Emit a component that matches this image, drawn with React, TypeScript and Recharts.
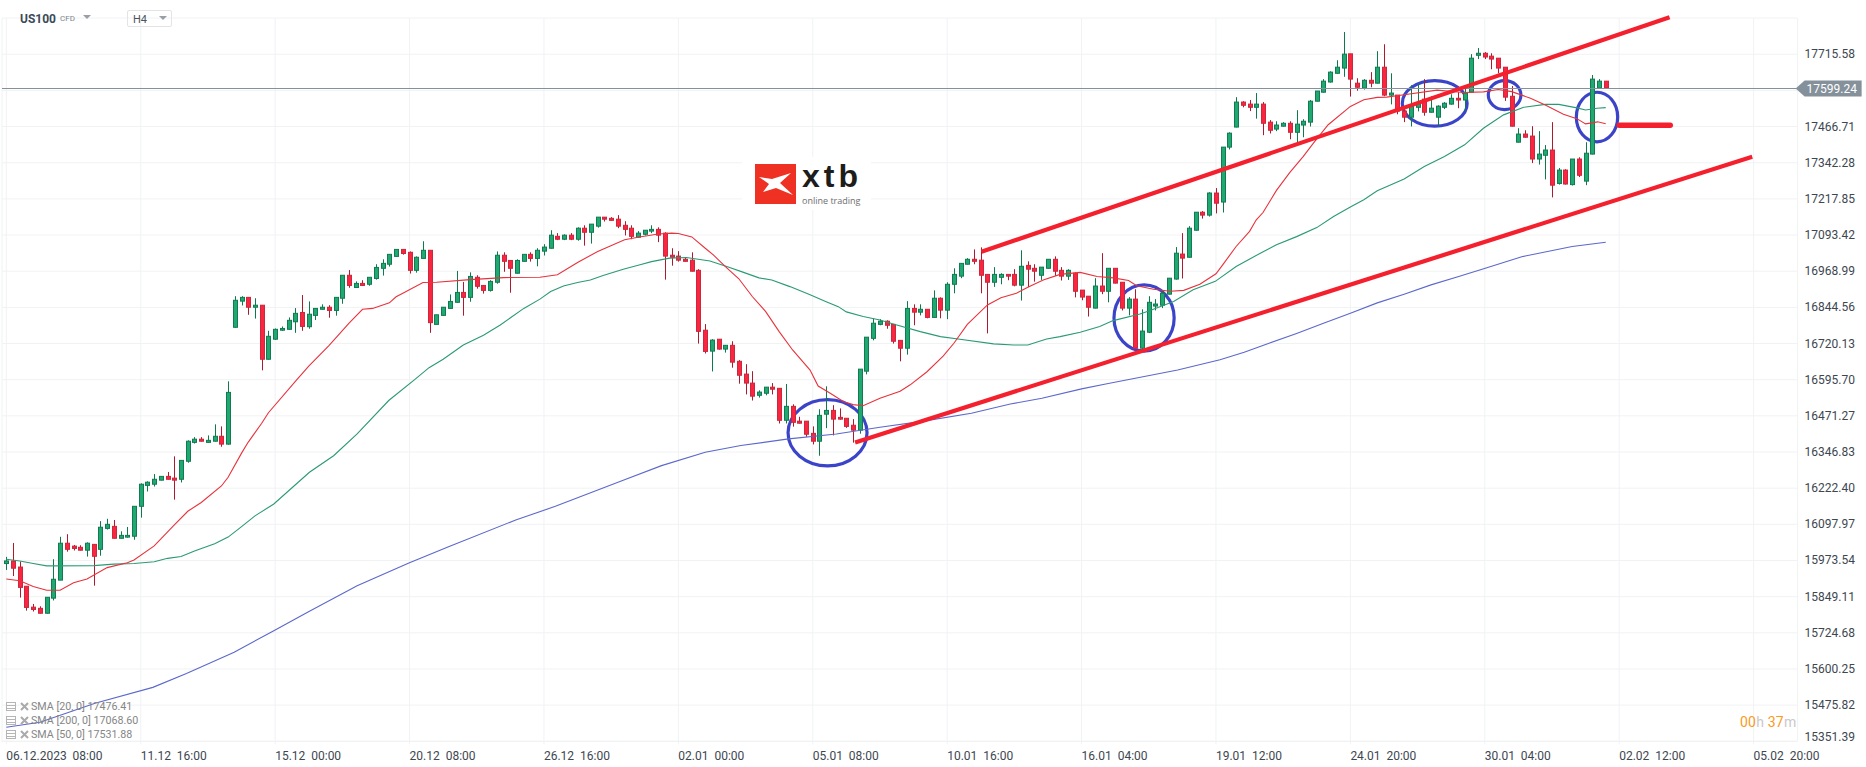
import React from "react";
import { ComposedChart, Bar, Line, XAxis, YAxis, CartesianGrid, ReferenceLine, ReferenceArea } from "recharts";

const opens = [
15963,15972,15951,15885,15813,15809,15792,15844,15906,16033,16023,16019,16009,16029,16012,16084,16091,16050,16054,16057,
16160,16232,16236,16250,16263,16257,16253,16315,16380,16391,16380,16384,16401,16374,16776,16866,16879,16845,16852,16666,
16735,16766,16769,16795,16827,16778,16817,16838,16845,16834,16876,16955,16913,16927,16924,16944,16979,16993,17020,17044,
17034,16972,17013,17041,16786,16817,16841,16862,16896,16879,16948,16920,16903,16931,17024,17006,16962,17003,17027,17013,
17038,17048,17089,17079,17093,17079,17117,17103,17124,17155,17151,17148,17127,17117,17086,17096,17107,17113,17100,17024,
17021,17010,17007,16972,16766,16694,16735,16701,16714,16659,16615,16584,16542,16549,16570,16566,16456,16504,16453,16453,
16411,16384,16477,16490,16466,16463,16439,16422,16625,16738,16786,16797,16786,16731,16704,16841,16828,16838,16810,16876,
16835,16924,16952,16993,17010,17007,16958,16931,16948,16958,16958,16921,16989,16979,16955,16979,17010,16972,16952,16962,
16904,16883,16842,16918,16900,16979,16931,16842,16873,16704,16759,16849,16852,16890,16942,17028,17017,17110,17172,17162,
17238,17207,17396,17465,17551,17544,17533,17544,17482,17458,17468,17478,17447,17472,17482,17554,17585,17620,17650,17668,
17717,17616,17599,17626,17616,17671,17575,17575,17520,17499,17533,17561,17516,17499,17533,17544,17564,17558,17585,17712,
17719,17709,17702,17671,17571,17413,17441,17434,17355,17368,17386,17271,17317,17267,17355,17279,17372,17599,17623];

const highs = [
15986,16034,15970,15885,15824,15816,15847,15978,16055,16064,16027,16026,16036,16029,16109,16117,16113,16074,16089,16160,
16239,16246,16271,16263,16278,16332,16318,16387,16398,16398,16404,16442,16435,16590,16883,16883,16879,16876,16852,16764,
16772,16779,16810,16842,16887,16865,16841,16855,16852,16879,16955,16973,16934,16938,16948,16993,17010,17027,17044,17044,
17037,17020,17072,17041,16819,16845,16889,16970,16932,16965,16955,16920,16938,17037,17034,17006,17010,17027,17034,17048,
17062,17110,17100,17096,17100,17120,17127,17131,17155,17155,17155,17162,17141,17127,17107,17110,17127,17120,17103,17048,
17038,17017,17034,16976,16787,16735,16735,16714,16728,16663,16649,16625,16559,16570,16584,16566,16581,16511,16468,16453,
16435,16494,16573,16508,16497,16463,16460,16632,16742,16807,16804,16800,16786,16731,16866,16855,16855,16838,16903,16879,
16931,16979,16996,17014,17044,17051,16958,16983,16962,16958,16976,17041,17003,16993,16983,17010,17020,16983,16976,16965,
16904,16883,16945,17031,16979,16979,16931,16880,16907,16838,16883,16873,16900,16945,17052,17100,17124,17172,17176,17241,
17255,17396,17447,17568,17554,17558,17582,17551,17489,17485,17482,17485,17523,17492,17558,17589,17630,17657,17695,17792,
17717,17633,17630,17654,17726,17750,17650,17575,17533,17609,17616,17630,17571,17540,17551,17578,17585,17599,17716,17737,
17723,17719,17702,17671,17606,17461,17454,17468,17451,17403,17482,17324,17320,17355,17361,17413,17644,17630,17623];

const lows = [
15941,15920,15846,15801,15798,15791,15791,15836,15906,16004,16008,16008,15987,15887,15990,16080,16049,16049,16052,16045,
16121,16211,16228,16249,16252,16183,16242,16310,16376,16383,16379,16383,16365,16372,16775,16851,16819,16806,16628,16665,
16733,16764,16768,16757,16764,16771,16801,16837,16809,16816,16857,16912,16912,16919,16919,16940,16954,16985,17019,17026,
16961,16964,17012,16757,16785,16816,16840,16861,16816,16864,16909,16892,16899,16926,16967,16895,16961,17002,17002,16986,
17023,17047,17076,17076,17076,17074,17057,17064,17119,17140,17143,17117,17092,17079,17085,17092,17100,17069,16940,16988,
17002,17002,16968,16720,16686,16624,16699,16689,16637,16582,16545,16524,16534,16542,16545,16445,16445,16434,16445,16399,
16373,16334,16429,16404,16458,16430,16379,16410,16614,16731,16783,16771,16720,16659,16682,16783,16817,16807,16809,16807,
16804,16893,16945,16992,16993,16893,16755,16915,16924,16938,16917,16868,16914,16933,16939,16978,16953,16937,16939,16879,
16869,16813,16841,16890,16862,16927,16834,16817,16703,16701,16756,16834,16842,16889,16940,16944,17016,17109,17150,17157,
17168,17171,17388,17464,17533,17520,17494,17437,17443,17451,17467,17423,17410,17430,17467,17553,17584,17618,17649,17638,
17570,17590,17594,17602,17615,17571,17543,17509,17482,17467,17519,17504,17515,17467,17527,17542,17530,17520,17584,17699,
17699,17664,17650,17555,17467,17412,17429,17341,17336,17285,17223,17267,17267,17264,17293,17265,17371,17598,17599];

const closes = [
15972,15947,15881,15812,15805,15792,15847,15909,16033,16012,16015,16009,16033,15988,16088,16098,16050,16060,16060,16160,
16236,16243,16253,16263,16253,16250,16318,16384,16391,16384,16387,16401,16374,16552,16869,16879,16845,16852,16666,16745,
16769,16772,16800,16824,16779,16821,16841,16845,16834,16879,16955,16920,16927,16920,16948,16982,16996,17027,17044,17030,
16972,17017,17041,16792,16819,16845,16865,16896,16879,16951,16917,16903,16934,17024,17003,16979,17006,17027,17013,17041,
17052,17093,17079,17093,17079,17117,17103,17131,17155,17148,17144,17124,17113,17089,17100,17110,17113,17093,17021,17017,
17007,17003,16969,16762,16693,16732,16701,16714,16656,16611,16584,16539,16553,16570,16563,16456,16504,16449,16446,16408,
16384,16473,16490,16460,16460,16435,16422,16632,16742,16790,16797,16783,16728,16704,16841,16828,16838,16810,16876,16835,
16924,16958,16996,17010,17003,16955,16931,16958,16958,16952,16921,16986,16976,16969,16983,17010,16969,16952,16972,16900,
16880,16845,16918,16900,16979,16928,16842,16873,16704,16763,16862,16856,16893,16945,17031,17014,17117,17172,17162,17238,
17203,17396,17444,17551,17540,17533,17544,17478,17454,17472,17478,17447,17475,17485,17554,17589,17623,17654,17671,17716,
17630,17602,17626,17616,17671,17575,17582,17520,17499,17537,17547,17516,17530,17537,17547,17564,17558,17582,17702,17719,
17706,17699,17668,17568,17468,17441,17430,17355,17372,17386,17265,17317,17269,17355,17299,17375,17630,17623,17599.24];

const sma20Index = [0,2,4,6,8,10,12,15,18,19,22,25,27,29,32,33,35,36,38,39,43.2,45,48,51,53,54.5,57,58,59,62,64,69,74,79.4,82,85,88,92,94,97,99,100,102,104,105.2,107,109,111,113,115,117,119.6,120.8,122.6,124.6,126,127.5,130,133,134.5,137,139.4,141,143,146,148,150.3,152,154.3,156.8,159.8,162.3,164.7,167,168.2,170.7,173.2,175.2,177.6,180,181,183,185,186,187,189,191,193,194.5,196.7,200,202,204,205.4,208,212.9,216.8,219.8,222,224,226.8,229,231.7,233.7,235,236.8,238];
const sma20Values = [15910,15904,15884,15871,15871,15897,15910,15949,15966,15975,16024,16096,16143,16173,16230,16260,16343,16381,16446,16482,16595,16642,16713,16790,16838,16841,16860,16881,16893,16930,16931,16940,16947,16948,16957,16999,17037,17077,17086,17097,17100,17099,17087,17048,17025,16985,16943,16882,16830,16761,16698,16629,16574,16549,16520,16510,16506,16532,16556,16578,16623,16677,16721,16786,16853,16878,16893,16914,16939,16958,16965,16951,16946,16937,16919,16907,16900,16903,16924,16960,16991,17054,17106,17146,17171,17247,17309,17364,17410,17473,17536,17559,17567,17568,17576,17592,17584,17586,17594,17587,17564,17541,17509,17494,17476,17483,17476.41];

const sma50Index = [0,2,4,6,13,16,19,22,24,26,28,31,33,35,37,39.8,45.1,48.7,52.2,56.9,60.8,62.9,65,68,71,73.5,77,79.4,81,82.9,85,86.9,88.8,91.8,94.3,96,98.7,101.2,104.7,107.2,109.7,112,113.9,116.6,119.6,122,123.8,125,127.5,130,132.5,136,139,141.9,146.9,149.9,152,154.8,156.8,159.8,162.7,164.7,168.7,170.2,173.7,176.6,179.9,183,186.6,189,192,195,197.5,200,202,204,208,211,214,217,219.8,222.8,225.8,229,231,233.7,235,236.7,238];
const sma50Values = [15978,15972,15963,15955,15956,15961,15963,15969,15981,15987,16006,16031,16054,16090,16127,16168,16277,16334,16409,16524,16597,16637,16666,16715,16749,16784,16841,16873,16899,16918,16930,16939,16954,16976,16991,17002,17014,17016,17004,16985,16965,16946,16939,16916,16888,16864,16847,16829,16813,16801,16784,16761,16744,16735,16719,16715,16715,16736,16744,16759,16779,16799,16822,16834,16865,16905,16934,16985,17031,17060,17088,17119,17157,17190,17215,17246,17286,17329,17364,17404,17461,17507,17533,17543,17543,17531,17524,17530,17531.88];

const sma200Index = [0,5,13.2,21.8,26.8,33.9,39.8,45.1,52.2,59.9,65.8,75.8,81.7,91.6,97.5,104,109.3,116.4,123.5,130,136.5,143.6,149.4,154.1,160,163.6,174.3,180.6,184.2,188,192,196,200,204,208,212,216,219.6,225.5,233,238];
const sma200Values = [15400,15417,15482,15537,15585,15658,15732,15799,15887,15965,16021,16113,16160,16248,16300,16346,16369,16392,16409,16432,16453,16480,16512,16532,16564,16581,16629,16664,16690,16722,16755,16790,16824,16860,16890,16922,16950,16976,17019,17054,17068.6];

const priceTicks = [17715.58,17591.15,17466.71,17342.28,17217.85,17093.42,16968.99,16844.56,16720.13,16595.7,16471.27,16346.83,16222.4,16097.97,15973.54,15849.11,15724.68,15600.25,15475.82,15351.39];
const hiddenPriceTick = 17591.15;
const lastPrice = 17599.24;

const timeTickIndex = [0,20,40,60,80,100,120,140,160,180,200,220,240,260];
const timeTickLabels = ["06.12.2023  08:00","11.12  16:00","15.12  00:00","20.12  08:00","26.12  16:00","02.01  00:00","05.01  08:00","10.01  16:00","16.01  04:00","19.01  12:00","24.01  20:00","30.01  04:00","02.02  12:00","05.02  20:00"];

const upperChannel = [{ x: 145.1, y: 17036 }, { x: 247.5, y: 17843 }];
const lowerChannel = [{ x: 126.3, y: 16380 }, { x: 259.8, y: 17363 }];
const targetLine = [{ x: 240, y: 17471 }, { x: 247.6, y: 17471 }];

const ellipses = [
  { x1: 116.1, x2: 128.3, y1: 16294, y2: 16532 },
  { x1: 164.6, x2: 174, y1: 16689, y2: 16927 },
  { x1: 207.5, x2: 217.6, y1: 17463, y2: 17630 },
  { x1: 220.3, x2: 225.6, y1: 17520, y2: 17630 },
  { x1: 233.4, x2: 240, y1: 17409, y2: 17590 },
];

const legendRows = ["SMA\u00A0[20,\u00A00]\u00A017476.41", "SMA\u00A0[200,\u00A00]\u00A017068.60", "SMA\u00A0[50,\u00A00]\u00A017531.88"];

const candles = opens.map((open, i) => ({ i, open, high: highs[i], low: lows[i], close: closes[i] }));
const sma20 = sma20Index.map((i, k) => ({ i, v: sma20Values[k] }));
const sma50 = sma50Index.map((i, k) => ({ i, v: sma50Values[k] }));
const sma200 = sma200Index.map((i, k) => ({ i, v: sma200Values[k] }));

const FONT = "Roboto, sans-serif";
const RED_LINE = "#f4202e";
const BLUE_RING = "#3b44c9";

function Candle(props: any) {
  const { x, y, width, height, payload } = props;
  if (x == null || y == null) return null;
  const c = Math.round(x + width / 2) + 0.5;
  const span = payload.high - payload.low || 1;
  const at = (v: number) => y + ((payload.high - v) / span) * height;
  const up = payload.close >= payload.open;
  const top = at(Math.max(payload.open, payload.close));
  const bottom = at(Math.min(payload.open, payload.close));
  return (
    <g>
      <line x1={c} x2={c} y1={y} y2={y + height} stroke={up ? "#0d7a4e" : "#ad1a2e"} strokeWidth={1} />
      <rect x={c - 2} y={top} width={4} height={Math.max(bottom - top, 1)} fill={up ? "#1fa86f" : "#fb2540"} stroke={up ? "#127a52" : "#c9283d"} strokeWidth={1} />
    </g>
  );
}

function XTick(props: any) {
  const { x, y, payload } = props;
  const k = timeTickIndex.indexOf(payload.value);
  return (
    <text x={x} y={y + 14} textAnchor="start" fontSize={12} fontFamily={FONT} fill="#3d4751">
      {(timeTickLabels[k] || "").replace(/ /g, "\u00A0")}
    </text>
  );
}

function YTick(props: any) {
  const { x, y, payload } = props;
  if (payload.value === hiddenPriceTick) return null;
  const isBottom = payload.value === priceTicks[priceTicks.length - 1];
  return (
    <text x={x - 1} y={y + 4 - (isBottom ? 4 : 0)} textAnchor="start" fontSize={12} fontFamily={FONT} fill="#3d4751">
      {payload.value.toFixed(2)}
    </text>
  );
}

function PriceLine(props: any) {
  const { x1, x2, y1 } = props;
  const left = Math.min(x1, x2);
  const right = Math.max(x1, x2);
  const y = Math.round(y1) + 0.5;
  return (
    <g>
      <line x1={left} x2={right} y1={y} y2={y} stroke="#84909a" strokeWidth={1} />
      <polygon points={`${right - 2},${y} ${right + 7},${y - 8} ${right + 64},${y - 8} ${right + 64},${y + 8} ${right + 7},${y + 8}`} fill="#84909a" />
      <text x={right + 9} y={y + 4.5} fontSize={12} fontFamily={FONT} fill="#ffffff">
        {lastPrice.toFixed(2)}
      </text>
    </g>
  );
}

function Ring(props: any) {
  const { x, y, width, height } = props;
  return (
    <ellipse cx={x + width / 2} cy={y + height / 2} rx={width / 2 - 1.5} ry={height / 2 - 1.5} fill="none" stroke={BLUE_RING} strokeWidth={3.2} />
  );
}

function Triangle({ left, top, w = 8, h = 4 }: { left: number; top: number; w?: number; h?: number }) {
  return (
    <div style={{ position: "absolute", left, top, width: 0, height: 0, borderLeft: `${w / 2}px solid transparent`, borderRight: `${w / 2}px solid transparent`, borderTop: `${h}px solid #9a9fa5` }} />
  );
}

function LegendRow({ top, text }: { top: number; text: string }) {
  return (
    <div style={{ position: "absolute", left: 6, top, height: 12, width: 140 }}>
      <svg width={24} height={12} style={{ position: "absolute", left: 0, top: 0 }}>
        <rect x={0.5} y={1.5} width={9} height={8} fill="none" stroke="#b5b5b5" strokeWidth={1} />
        <path d="M1 4.5H9M1 7.5H9" stroke="#b5b5b5" strokeWidth={1} />
        <path d="M15 2L22 9M22 2L15 9" stroke="#aaaaaa" strokeWidth={2} />
      </svg>
      <div style={{ position: "absolute", left: 25, top: -1, fontSize: 10.7, lineHeight: "14px", color: "#868686", whiteSpace: "nowrap", fontFamily: FONT }}>{text}</div>
    </div>
  );
}

export default function App() {
  return (
    <div style={{ position: "absolute", left: 0, top: 0, width: 1866, height: 767, background: "#ffffff", overflow: "hidden", fontFamily: FONT }}>
      <ComposedChart width={1866} height={767} data={candles} margin={{ top: 18, left: 2, right: 0, bottom: 0 }}>
        <CartesianGrid stroke="#f1f2f4" strokeWidth={1} />
        <XAxis
          dataKey="i"
          type="number"
          domain={[-0.647, 266.55]}
          allowDataOverflow
          ticks={timeTickIndex}
          interval={0}
          height={25.7}
          axisLine={{ stroke: "#f1f2f4" }}
          tickLine={{ stroke: "#f1f2f4" }}
          tickSize={3}
          tick={<XTick />}
        />
        <YAxis
          orientation="right"
          type="number"
          width={68.4}
          domain={[15351.39, 17840.3]}
          allowDataOverflow
          ticks={priceTicks}
          interval={0}
          axisLine={false}
          tickLine={false}
          tick={<YTick />}
        />
        <ReferenceLine y={lastPrice} ifOverflow="visible" shape={<PriceLine />} />
        <Line data={sma200} dataKey="v" type="linear" dot={false} stroke="#5c68cc" strokeWidth={1.1} isAnimationActive={false} />
        <Line data={sma50} dataKey="v" type="linear" dot={false} stroke="#2b9a74" strokeWidth={1.1} isAnimationActive={false} />
        <Line data={sma20} dataKey="v" type="linear" dot={false} stroke="#e8323c" strokeWidth={1.1} isAnimationActive={false} />
        <Bar dataKey={(d: any) => [d.low, d.high]} barSize={5} shape={<Candle />} isAnimationActive={false} />
        <ReferenceLine segment={upperChannel} stroke={RED_LINE} strokeWidth={4.2} ifOverflow="visible" />
        <ReferenceLine segment={lowerChannel} stroke={RED_LINE} strokeWidth={4.2} ifOverflow="visible" />
        <ReferenceLine segment={targetLine} stroke={RED_LINE} strokeWidth={5.5} strokeLinecap="round" ifOverflow="visible" />
        {ellipses.map((e, k) => (
          <ReferenceArea key={k} x1={e.x1} x2={e.x2} y1={e.y1} y2={e.y2} ifOverflow="visible" shape={<Ring />} />
        ))}
      </ComposedChart>

      <div style={{ position: "absolute", left: 20, top: 11, fontSize: 12, lineHeight: "16px", fontWeight: 700, color: "#3b4a57" }}>US100</div>
      <div style={{ position: "absolute", left: 60, top: 14, fontSize: 8, lineHeight: "10px", color: "#7d868e" }}>CFD</div>
      <Triangle left={83} top={15} />
      <div style={{ position: "absolute", left: 127, top: 10, width: 43, height: 15, border: "1px solid #e2e4e6", borderRadius: 2, boxSizing: "content-box" }} />
      <div style={{ position: "absolute", left: 133, top: 12, fontSize: 11, lineHeight: "16px", color: "#4a545d" }}>H4</div>
      <Triangle left={159} top={16} />

      <div style={{ position: "absolute", left: 742, top: 157, width: 129, height: 53, background: "#ffffff" }}>
        <svg width={41} height={40} style={{ position: "absolute", left: 13, top: 7 }}>
          <rect width={41} height={40} fill="#ef3124" />
          <path d="M4 13 L17 15 L36 9 L25 19 L38 31 L21 24 L8 28 L14 20 Z" fill="#ffffff" />
        </svg>
        <div style={{ position: "absolute", left: 60, top: 4.4, fontSize: 32, lineHeight: "30px", fontWeight: 700, letterSpacing: 4, color: "#1d1d1b", fontFamily: "'Liberation Sans', sans-serif" }}>xtb</div>
        <div style={{ position: "absolute", left: 60, top: 37.5, fontSize: 9, lineHeight: "12px", color: "#6d6d6d", whiteSpace: "nowrap", fontFamily: "'Open Sans', sans-serif" }}>online trading</div>
      </div>

      {legendRows.map((t, k) => (
        <LegendRow key={k} top={701 + k * 14} text={t} />
      ))}

      <div style={{ position: "absolute", left: 1740, top: 713, fontSize: 14, lineHeight: "18px", whiteSpace: "nowrap", letterSpacing: 0.2 }}>
        <span style={{ color: "#fb9a1e" }}>00</span>
        <span style={{ color: "#c9c9c9" }}>h </span>
        <span style={{ color: "#fb9a1e" }}>37</span>
        <span style={{ color: "#c9c9c9" }}>m</span>
      </div>
    </div>
  );
}
